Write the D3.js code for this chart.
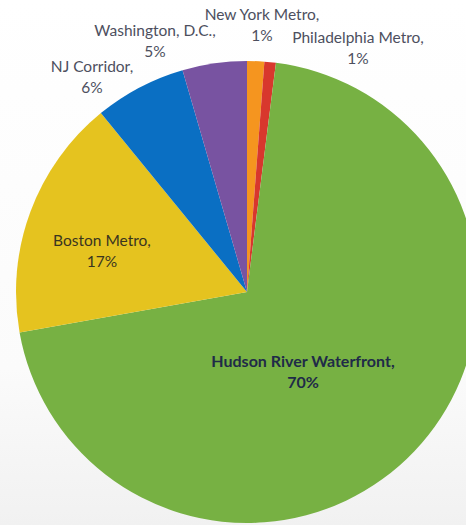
<!DOCTYPE html>
<html>
<head>
<meta charset="utf-8">
<script src="https://cdn.jsdelivr.net/npm/d3@7"></script>
<style>
html,body{margin:0;padding:0;overflow:hidden;}
svg{display:block;}
</style>
</head>
<body>
<svg id="chart" width="466" height="525"></svg>
<script>
// Data
const categories = ["New York Metro", "Philadelphia Metro", "Hudson River Waterfront", "Boston Metro", "NJ Corridor", "Washington, D.C."];
const values = [1.2, 0.8, 70.2, 16.9, 6.4, 4.5];
const percentLabels = ["1%", "1%", "70%", "17%", "6%", "5%"];
const colors = ["#f5951f", "#d8372d", "#77b143", "#e5c31f", "#0a6fc3", "#7853a1"];

const W = 466, H = 525;
const cx = 247, cy = 292, R = 231;

const svg = d3.select("#chart");
const defs = svg.append("defs");
const grad = defs.append("linearGradient").attr("id","bg").attr("x1",0).attr("y1",0).attr("x2",0).attr("y2",1);
grad.append("stop").attr("offset","0%").attr("stop-color","#ffffff");
grad.append("stop").attr("offset","70%").attr("stop-color","#fbfbfb");
grad.append("stop").attr("offset","100%").attr("stop-color","#f1f1f1");
svg.append("rect").attr("width",W).attr("height",H).attr("fill","url(#bg)");

const data = categories.map((c,i)=>({name:c, value:values[i], pct:percentLabels[i], color:colors[i]}));
const pie = d3.pie().sort(null).value(d=>d.value).startAngle(0).endAngle(2*Math.PI);
const arc = d3.arc().innerRadius(0).outerRadius(R);

const g = svg.append("g").attr("transform",`translate(${cx},${cy})`);
g.selectAll("path").data(pie(data)).join("path")
  .attr("d", arc)
  .attr("fill", d=>d.data.color);

// Label positions (centre x, first-line baseline y) and styling
const labelPos = [
  {x:262, y:20, fill:"#4d4f5e", weight:"normal", size:15.5},
  {x:358, y:43, fill:"#4d4f5e", weight:"normal", size:15.5},
  {x:303, y:367, fill:"#1f2b48", weight:"bold", size:16},
  {x:102, y:246, fill:"#3a3520", weight:"normal", size:15.5},
  {x:92,  y:72, fill:"#4d4f5e", weight:"normal", size:15.5},
  {x:155, y:36, fill:"#4d4f5e", weight:"normal", size:15.5}
];

const labels = svg.append("g").attr("font-family","Lato, 'Open Sans', sans-serif");
data.forEach((d,i)=>{
  const p = labelPos[i];
  const t = labels.append("text")
    .attr("text-anchor","middle")
    .attr("font-size", p.size)
    .attr("fill", p.fill)
    .attr("font-weight", p.weight);
  t.append("tspan").attr("x", p.x).attr("y", p.y).text(d.name + ",");
  t.append("tspan").attr("x", p.x).attr("y", p.y + 21).text(d.pct);
});
</script>
</body>
</html>
